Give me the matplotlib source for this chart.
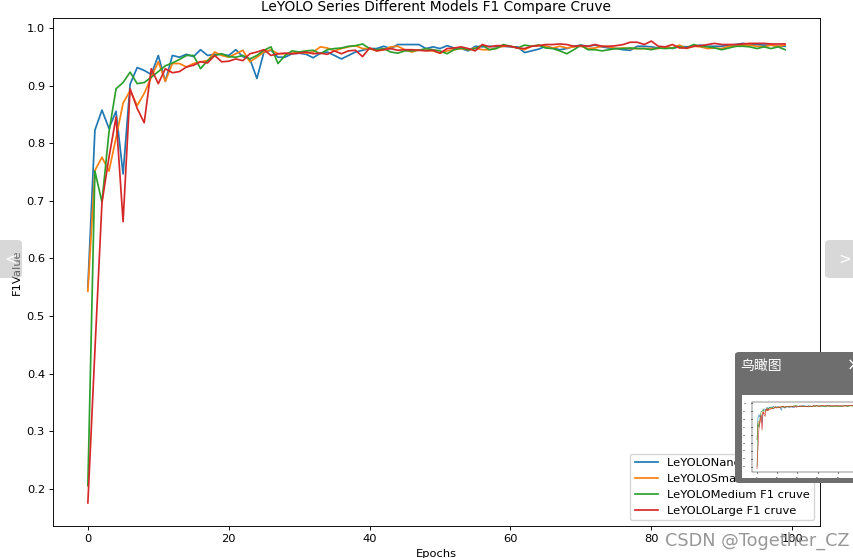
import numpy as np
import matplotlib.pyplot as plt
from matplotlib.patches import FancyBboxPatch

# the screenshot is the usual matplotlib look, shrunk to about 82%
k = 0.825
plt.rcParams.update({
    'font.size': 10 * k,
    'axes.titlesize': 12 * k,
    'lines.linewidth': 1.5 * k,
    'axes.linewidth': 0.8 * k,
    'xtick.major.size': 3.5 * k, 'ytick.major.size': 3.5 * k,
    'xtick.major.width': 0.8 * k, 'ytick.major.width': 0.8 * k,
    'xtick.major.pad': 3.5 * k, 'ytick.major.pad': 3.5 * k,
    'axes.titlepad': 6 * k, 'axes.labelpad': 4 * k,
})
plt.rcParams['font.family'] = ['DejaVu Sans', 'Noto Sans CJK SC']

epochs = list(range(100))

nano = [0.55, 0.823, 0.858, 0.826, 0.856, 0.747, 0.903, 0.932, 0.927, 0.92, 0.953, 0.908, 0.953,
        0.95, 0.955, 0.951, 0.963, 0.953, 0.955, 0.955, 0.953, 0.963, 0.951, 0.947, 0.913,
        0.959, 0.962, 0.95, 0.95, 0.956, 0.957, 0.955, 0.949, 0.957, 0.959, 0.953, 0.947,
        0.953, 0.959, 0.962, 0.965, 0.965, 0.969, 0.965, 0.972, 0.972, 0.972, 0.972, 0.965,
        0.968, 0.965, 0.97, 0.966, 0.965, 0.961, 0.969, 0.968, 0.969, 0.968, 0.969, 0.968,
        0.968, 0.958, 0.961, 0.964, 0.969, 0.966, 0.963, 0.965, 0.969, 0.971, 0.969, 0.971,
        0.968, 0.966, 0.965, 0.963, 0.962, 0.969, 0.969, 0.968, 0.966, 0.968, 0.965, 0.969,
        0.968, 0.969, 0.971, 0.969, 0.969, 0.969, 0.971, 0.972, 0.974, 0.972, 0.972, 0.971, 0.971, 0.969, 0.969]

small = [0.543, 0.753, 0.776, 0.752, 0.81, 0.87, 0.892, 0.866, 0.887, 0.915, 0.942, 0.908, 0.939,
         0.939, 0.933, 0.939, 0.942, 0.944, 0.959, 0.953, 0.95, 0.956, 0.962, 0.942, 0.95,
         0.959, 0.963, 0.956, 0.956, 0.957, 0.959, 0.957, 0.959, 0.968, 0.966, 0.961, 0.965,
         0.968, 0.97, 0.965, 0.965, 0.961, 0.963, 0.968, 0.969, 0.963, 0.959, 0.963, 0.962,
         0.961, 0.957, 0.961, 0.963, 0.965, 0.963, 0.966, 0.963, 0.963, 0.966, 0.969, 0.969,
         0.966, 0.963, 0.969, 0.971, 0.969, 0.966, 0.969, 0.966, 0.968, 0.969, 0.965, 0.966,
         0.969, 0.968, 0.965, 0.966, 0.965, 0.965, 0.965, 0.965, 0.965, 0.968, 0.966, 0.971,
         0.965, 0.969, 0.968, 0.965, 0.966, 0.965, 0.969, 0.969, 0.971, 0.971, 0.969, 0.968, 0.971, 0.969, 0.971]

medium = [0.205, 0.752, 0.698, 0.82, 0.895, 0.906, 0.924, 0.904, 0.906, 0.915, 0.925, 0.935, 0.94,
          0.946, 0.953, 0.953, 0.93, 0.944, 0.953, 0.956, 0.951, 0.95, 0.953, 0.947, 0.953,
          0.962, 0.968, 0.939, 0.953, 0.961, 0.959, 0.961, 0.962, 0.956, 0.963, 0.965, 0.966,
          0.969, 0.97, 0.973, 0.965, 0.963, 0.965, 0.959, 0.957, 0.961, 0.961, 0.962, 0.965,
          0.963, 0.961, 0.956, 0.963, 0.966, 0.963, 0.965, 0.971, 0.963, 0.965, 0.972, 0.969,
          0.966, 0.971, 0.969, 0.971, 0.966, 0.965, 0.961, 0.956, 0.963, 0.971, 0.963, 0.963,
          0.961, 0.963, 0.965, 0.965, 0.966, 0.965, 0.965, 0.963, 0.966, 0.965, 0.966, 0.968,
          0.966, 0.972, 0.969, 0.968, 0.966, 0.963, 0.966, 0.969, 0.969, 0.968, 0.965, 0.968, 0.965, 0.968, 0.963]

large = [0.175, 0.44, 0.697, 0.776, 0.846, 0.664, 0.895, 0.861, 0.836, 0.93, 0.904, 0.93, 0.923,
         0.925, 0.933, 0.936, 0.942, 0.94, 0.953, 0.942, 0.943, 0.947, 0.944, 0.956, 0.959,
         0.963, 0.953, 0.956, 0.957, 0.956, 0.957, 0.959, 0.956, 0.957, 0.955, 0.961, 0.956,
         0.961, 0.962, 0.951, 0.966, 0.961, 0.963, 0.965, 0.962, 0.963, 0.963, 0.962, 0.961,
         0.962, 0.957, 0.965, 0.966, 0.968, 0.965, 0.961, 0.972, 0.968, 0.97, 0.97, 0.969,
         0.966, 0.965, 0.969, 0.97, 0.972, 0.972, 0.973, 0.972, 0.969, 0.97, 0.969, 0.972,
         0.969, 0.969, 0.97, 0.972, 0.976, 0.976, 0.972, 0.978, 0.969, 0.968, 0.972, 0.966,
         0.966, 0.969, 0.97, 0.972, 0.974, 0.972, 0.972, 0.972, 0.973, 0.974, 0.974, 0.974, 0.973, 0.973, 0.973]

labels = ["LeYOLONano F1 cruve", "LeYOLOSmall F1 cruve",
          "LeYOLOMedium F1 cruve", "LeYOLOLarge F1 cruve"]
series = [nano, small, medium, large]

W, H = 854, 558
fig = plt.figure(figsize=(W / 100, H / 100), dpi=100)
ax = fig.add_axes([53 / W, 32 / H, 767 / W, 508 / H])
for s, lab in zip(series, labels):
    ax.plot(epochs, s, label=lab)
ax.set_title("LeYOLO Series Different Models F1 Compare Cruve")
ax.set_xlabel("Epochs")
ax.set_ylabel("F1Value")
ax.legend(loc="lower right")

# page overlays from the screenshot
def box(x0, y0, x1, y1, color, r=0.006, alpha=1.0):
    fig.patches.append(FancyBboxPatch((x0 / W, 1 - y1 / H), (x1 - x0) / W, (y1 - y0) / H,
                                      boxstyle=f"round,pad=0,rounding_size={r}",
                                      transform=fig.transFigure, fc=color, ec="none",
                                      alpha=alpha, zorder=5))

box(-5, 240, 22, 278, "#b8b8b8", alpha=0.55)
fig.text(4 / W, 1 - 259 / H, "<", color="white", fontsize=11, va="center", zorder=6)
box(825, 240, 870, 278, "#b8b8b8", alpha=0.55)
fig.text(838 / W, 1 - 259 / H, ">", color="white", fontsize=11, va="center", zorder=6)

box(735, 352, 870, 483, "#6e6e6e", 0.005)
fig.text(740 / W, 1 - 366 / H, "鸟瞰图", color="white", fontsize=10, va="center",
         family=['Noto Sans CJK SC', 'DejaVu Sans'], zorder=6)
fig.text(847 / W, 1 - 366 / H, "×", color="white", fontsize=12, va="center", zorder=6)
thumb = fig.add_axes([742 / W, 1 - 478 / H, 120 / W, 83 / H], zorder=7)
thumb.set_xticks([]); thumb.set_yticks([])
for sp in thumb.spines.values():
    sp.set_visible(False)
mini = fig.add_axes([752 / W, 1 - 472 / H, 110 / W, 70 / H], zorder=8)
for s in series:
    mini.plot(epochs, s, lw=0.4)
mini.tick_params(length=1, labelsize=1.5)
for sp in mini.spines.values():
    sp.set_linewidth(0.3)

fig.text(850 / W, 1 - 541 / H, "CSDN @Together_CZ", color="#8c8c8c", alpha=0.9,
         fontsize=12.7, ha="right", va="center", zorder=9)

fig.savefig("out.png", dpi=100)
